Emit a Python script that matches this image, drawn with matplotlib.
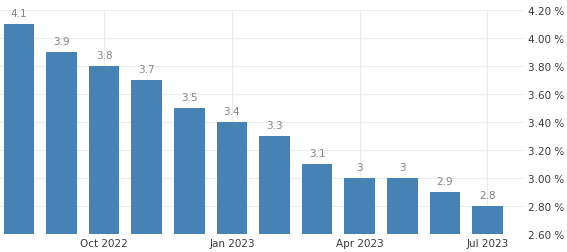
import matplotlib
matplotlib.use("Agg")
import matplotlib.pyplot as plt

# monthly values, Aug 2022 .. Jul 2023
months = ["Aug 2022", "Sep 2022", "Oct 2022", "Nov 2022", "Dec 2022", "Jan 2023",
          "Feb 2023", "Mar 2023", "Apr 2023", "May 2023", "Jun 2023", "Jul 2023"]
values = [4.1, 3.9, 3.8, 3.7, 3.5, 3.4, 3.3, 3.1, 3, 3, 2.9, 2.8]
value_labels = ["4.1", "3.9", "3.8", "3.7", "3.5", "3.4", "3.3", "3.1", "3", "3", "2.9", "2.8"]
shown_months = ["Oct 2022", "Jan 2023", "Apr 2023", "Jul 2023"]
y_ticks = [2.6, 2.8, 3.0, 3.2, 3.4, 3.6, 3.8, 4.0, 4.2]

bar_color = "#4682b4"
grid_color = "#ececec"

fig = plt.figure(figsize=(5.67, 2.53), dpi=100)
ax = fig.add_axes([0.0, 0.071, 0.922, 0.886])

x = list(range(len(values)))
ax.bar(x, values, width=0.72, color=bar_color, zorder=2)

# value labels on top of each bar
for xi, v, lab in zip(x, values, value_labels):
    ax.annotate(lab, (xi, v), xytext=(0, 4.5), textcoords="offset points",
                ha="center", va="bottom", fontsize=7.5, color="#858585")

ax.set_ylim(2.6, 4.2)
ax.set_xlim(-0.446, 11.83)

ax.set_yticks(y_ticks)
ax.set_yticklabels(["%.2f %%" % t for t in y_ticks])
ax.yaxis.tick_right()

tick_pos = [months.index(m) for m in shown_months]
ax.set_xticks(tick_pos)
ax.set_xticklabels(shown_months)

ax.tick_params(axis="both", length=0, labelsize=7.5, colors="#3a3a3a")
ax.tick_params(axis="y", pad=4)
ax.tick_params(axis="x", pad=3)

ax.grid(True, color=grid_color, linewidth=0.8, zorder=0)
ax.set_axisbelow(True)
for s in ax.spines.values():
    s.set_visible(False)

fig.savefig("out.png", dpi=100)
